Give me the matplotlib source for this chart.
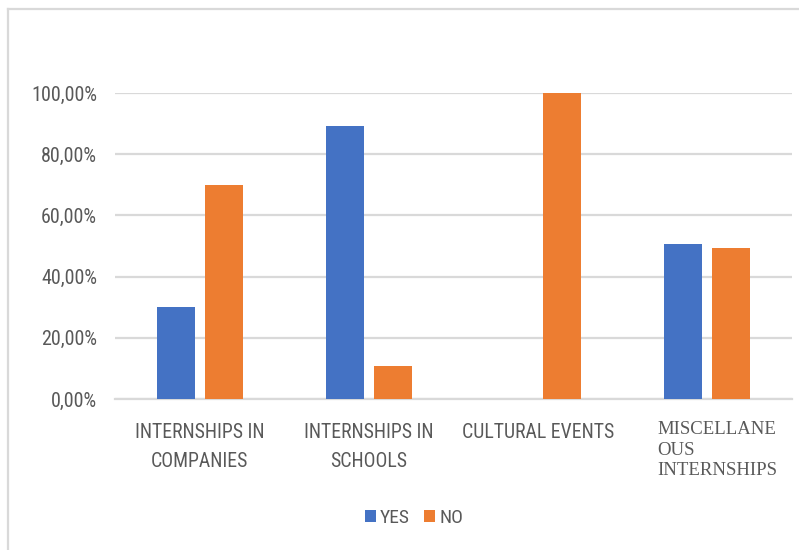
import matplotlib
matplotlib.use("Agg")

import matplotlib.pyplot as plt
import matplotlib.transforms as mtransforms
from matplotlib.lines import Line2D
import numpy as np

# data
categories = [
    "INTERNSHIPS IN\nCOMPANIES",
    "INTERNSHIPS IN\nSCHOOLS",
    "CULTURAL EVENTS",
    "MISCELLANE\nOUS\nINTERNSHIPS",
]
yes_values = [30.2, 89.1, 0.0, 50.7]
no_values = [69.8, 10.9, 100.0, 49.2]
series_names = ["YES", "NO"]
y_ticks = [0, 20, 40, 60, 80, 100]

BLUE = "#4472C4"
ORANGE = "#ED7D31"
GRID = "#D9D9D9"
TEXT = "#595959"
SANS = ["Roboto Condensed", "Roboto", "DejaVu Sans"]
SERIF = ["Liberation Serif", "DejaVu Serif"]

plt.rcParams["font.family"] = SANS

fig = plt.figure(figsize=(7.99, 5.50), dpi=100)
ax = fig.add_axes([115 / 799, 1 - 399 / 550, (792 - 115) / 799, (399 - 93) / 550])

x = np.arange(len(categories))
width = 0.225
offset = 0.142
ax.bar(x - offset, yes_values, width, color=BLUE, label=series_names[0], zorder=3)
ax.bar(x + offset, no_values, width, color=ORANGE, label=series_names[1], zorder=3)

ax.set_xlim(-0.5, len(categories) - 0.5)
ax.set_ylim(0, 100)
ax.set_yticks(y_ticks)
ax.set_yticklabels([f"{v:.2f}".replace(".", ",") + "%" for v in y_ticks])
ax.yaxis.grid(True, color=GRID, linewidth=1.6, zorder=0)
ax.set_axisbelow(True)

for side in ["top", "right", "left"]:
    ax.spines[side].set_visible(False)
ax.spines["bottom"].set_color(GRID)
ax.spines["bottom"].set_linewidth(1.6)

ax.tick_params(axis="y", length=0, pad=13, labelsize=14.5, labelcolor=TEXT)
ax.tick_params(axis="x", length=0, pad=17, labelsize=14.2, labelcolor=TEXT)
ax.set_xticks(x)
ax.set_xticklabels(categories, linespacing=1.7)

# last category label is set in a serif face, left aligned
last = ax.get_xticklabels()[-1]
last.set_fontfamily(SERIF)
last.set_fontsize(13.5)
last.set_multialignment("left")
last.set_linespacing(1.3)
last.set_transform(last.get_transform() + mtransforms.ScaledTranslation(10 / 100, 2 / 100, fig.dpi_scale_trans))

fig.legend(loc="center", bbox_to_anchor=(414 / 799, 1 - 518 / 550), ncol=2, frameon=False,
           fontsize=14, labelcolor=TEXT, handlelength=0.57, handleheight=0.57,
           handletextpad=0.2, columnspacing=0.75)

# chart area border (left and top edges visible)
fig.add_artist(Line2D([7.5 / 799, 7.5 / 799], [0, 1 - 9 / 550], color=GRID, linewidth=1.6,
                      transform=fig.transFigure))
fig.add_artist(Line2D([7.5 / 799, 1], [1 - 9 / 550, 1 - 9 / 550], color=GRID, linewidth=1.6,
                      transform=fig.transFigure))

fig.savefig("out.png", dpi=100)
